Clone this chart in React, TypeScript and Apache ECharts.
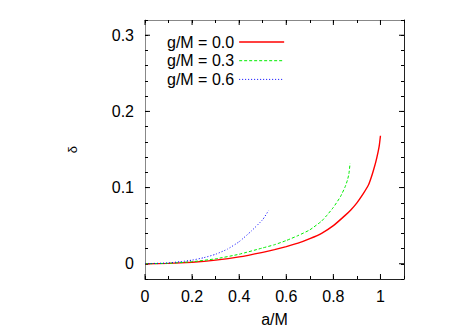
import React, { useEffect, useRef } from 'react';
import * as echarts from 'echarts';

// a/M values and delta values
const aG00 = [0, 0.1, 0.2, 0.3, 0.4, 0.5, 0.55, 0.6, 0.65, 0.7, 0.75, 0.8, 0.85, 0.875, 0.9, 0.925, 0.95, 0.96, 0.97, 0.98, 0.99, 0.995, 1.0];
const dG00 = [0, 0.0005, 0.002, 0.0048, 0.009, 0.015, 0.0185, 0.0225, 0.027, 0.033, 0.040, 0.050, 0.0635, 0.071, 0.080, 0.091, 0.104, 0.1125, 0.1225, 0.1335, 0.147, 0.155, 0.168];

const aG03 = [0, 0.1, 0.2, 0.3, 0.4, 0.5, 0.55, 0.6, 0.65, 0.7, 0.75, 0.775, 0.8, 0.83, 0.85, 0.86, 0.866, 0.871];
const dG03 = [0, 0.0006, 0.0027, 0.0065, 0.0125, 0.0208, 0.025, 0.0305, 0.037, 0.0445, 0.056, 0.0645, 0.074, 0.088, 0.101, 0.110, 0.118, 0.132];

const aG06 = [0, 0.1, 0.15, 0.2, 0.25, 0.3, 0.35, 0.4, 0.45, 0.5, 0.525];
const dG06 = [0, 0.0012, 0.0027, 0.0048, 0.008, 0.0125, 0.0192, 0.029, 0.0425, 0.058, 0.070];

const seriesNames = ['g/M = 0.0', 'g/M = 0.3', 'g/M = 0.6'];
const seriesColors = ['#ff0000', '#00ee00', '#0000ff'];
const xMajorTicks = [0, 0.2, 0.4, 0.6, 0.8, 1.0];
const yMajorTicks = [0, 0.1, 0.2, 0.3];

const FONT = 'Liberation Sans, Arial, Helvetica, sans-serif';

function zip(a: number[], d: number[]) {
  return a.map((v, i) => [v, d[i]]);
}

function fmtMajor(v: number, step: number) {
  const r = Math.round(v / step);
  if (Math.abs(v / step - r) < 1e-6) {
    const val = Math.round(r * step * 10) / 10;
    return String(val);
  }
  return '';
}

export default function App() {
  const ref = useRef<HTMLDivElement>(null);
  useEffect(() => {
    if (!ref.current) return;
    const chart = echarts.init(ref.current, undefined, { renderer: 'svg' });
    const baseX = {
      type: 'value' as const,
      min: 0,
      max: 1.1,
      interval: 0.1,
      splitLine: { show: false },
      axisTick: { inside: true, length: 3, lineStyle: { color: '#000', width: 1 } },
    };
    const baseY = {
      type: 'value' as const,
      min: -0.02,
      max: 0.32,
      interval: 0.02,
      splitLine: { show: false },
      axisTick: { inside: true, length: 3, lineStyle: { color: '#000', width: 1 } },
    };
    const styles = [
      { color: seriesColors[0], width: 1.4, type: 'solid' as any },
      { color: seriesColors[1], width: 1, type: [3, 2] as any },
      { color: seriesColors[2], width: 1, type: [1, 2] as any },
    ];
    chart.setOption({
      animation: false,
      backgroundColor: '#fff',
      textStyle: { fontFamily: FONT },
      grid: { left: 145, right: 70, top: 20, bottom: 53, containLabel: false },
      legend: {
        data: seriesNames.map((n, i) => ({ name: n, lineStyle: { ...styles[i] } })),
        orient: 'vertical',
        align: 'right',
        left: 162,
        top: 29,
        padding: 5,
        itemWidth: 45,
        itemHeight: 10,
        itemGap: 2.7,
        itemStyle: { opacity: 0 },
        textStyle: { fontSize: 16, lineHeight: 14, color: '#000', fontFamily: FONT },
      },
      xAxis: [
        {
          ...baseX,
          position: 'bottom',
          axisLine: { onZero: false, lineStyle: { color: '#222', width: 1 } },
          axisLabel: {
            formatter: (v: number) => fmtMajor(v, 0.2),
            fontSize: 16,
            color: '#000',
            margin: 9,
            fontFamily: FONT,
          },
          name: 'a/M',
          nameLocation: 'middle',
          nameGap: 32,
          nameTextStyle: { fontSize: 16, color: '#000', fontFamily: FONT },
        },
        {
          ...baseX,
          position: 'top',
          axisLine: { onZero: false, lineStyle: { color: '#888', width: 1 } },
          axisLabel: { show: false },
        },
      ],
      yAxis: [
        {
          ...baseY,
          position: 'left',
          axisLine: { onZero: false, lineStyle: { color: '#888', width: 1 } },
          axisLabel: {
            formatter: (v: number) => fmtMajor(v, 0.1),
            fontSize: 16,
            color: '#000',
            margin: 11,
            fontFamily: FONT,
          },
          name: 'δ',
          nameLocation: 'middle',
          nameRotate: 90,
          nameGap: 66,
          nameTextStyle: { fontSize: 13, color: '#000', fontFamily: FONT },
        },
        {
          ...baseY,
          position: 'right',
          axisLine: { onZero: false, lineStyle: { color: '#222', width: 1 } },
          axisLabel: { show: false },
        },
      ],
      series: [
        {
          name: seriesNames[0],
          type: 'line',
          data: zip(aG00, dG00),
          showSymbol: false,
          symbol: 'none',
          smooth: 0.15,
          lineStyle: styles[0],
          itemStyle: { color: seriesColors[0] },
        },
        {
          name: seriesNames[1],
          type: 'line',
          data: zip(aG03, dG03),
          showSymbol: false,
          symbol: 'none',
          smooth: 0.15,
          lineStyle: styles[1],
          itemStyle: { color: seriesColors[1] },
        },
        {
          name: seriesNames[2],
          type: 'line',
          data: zip(aG06, dG06),
          showSymbol: false,
          symbol: 'none',
          smooth: 0.15,
          lineStyle: styles[2],
          itemStyle: { color: seriesColors[2] },
        },
        {
          name: 'yMajor',
          type: 'custom',
          silent: true,
          data: yMajorTicks.map((v) => [0, v]),
          renderItem: (params: any, api: any) => {
            const cs = params.coordSys;
            const p = api.coord([0, api.value(1)]);
            const st = { stroke: '#000', lineWidth: 1 };
            return {
              type: 'group',
              children: [
                { type: 'line', shape: { x1: cs.x, y1: p[1], x2: cs.x + 5, y2: p[1] }, style: st },
                { type: 'line', shape: { x1: cs.x + cs.width - 5, y1: p[1], x2: cs.x + cs.width, y2: p[1] }, style: st },
              ],
            };
          },
        },
        {
          name: 'xMajor',
          type: 'custom',
          silent: true,
          data: xMajorTicks.map((v) => [v, 0]),
          renderItem: (params: any, api: any) => {
            const cs = params.coordSys;
            const p = api.coord([api.value(0), 0]);
            const st = { stroke: '#000', lineWidth: 1 };
            return {
              type: 'group',
              children: [
                { type: 'line', shape: { x1: p[0], y1: cs.y + cs.height, x2: p[0], y2: cs.y + cs.height - 5 }, style: st },
                { type: 'line', shape: { x1: p[0], y1: cs.y, x2: p[0], y2: cs.y + 5 }, style: st },
              ],
            };
          },
        },
      ],
    });
    return () => chart.dispose();
  }, []);
  return (
    <div
      ref={ref}
      style={{ position: 'fixed', left: 0, top: 0, width: 474, height: 332, background: '#fff' }}
    />
  );
}
